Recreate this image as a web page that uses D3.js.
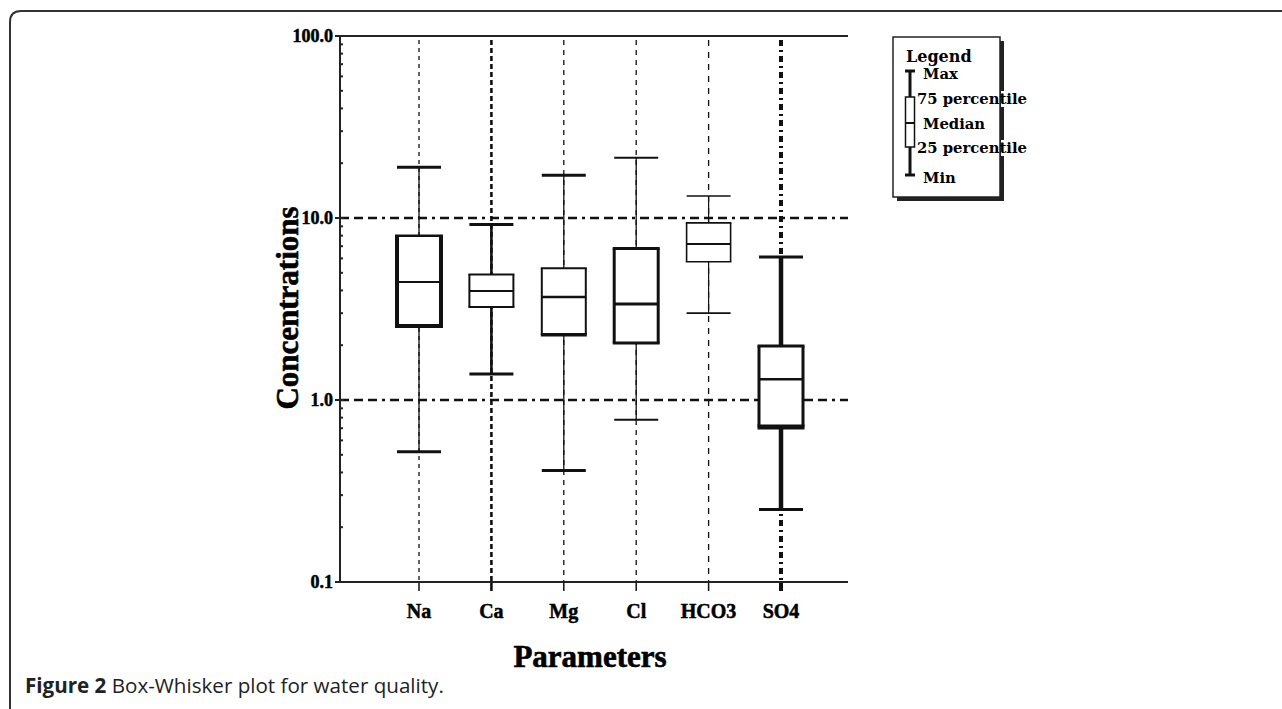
<!DOCTYPE html>
<html><head><meta charset="utf-8">
<script src="https://cdn.jsdelivr.net/npm/d3@7"></script>
<style>body{margin:0;background:#fff}svg{display:block}</style>
</head><body>
<svg id="chart" width="1282" height="709"></svg>
<script>
// ---- data ----
const categories = ["Na", "Ca", "Mg", "Cl", "HCO3", "SO4"];
const minValues    = [0.52, 1.39, 0.41, 0.78, 3.0, 0.25];
const q1Values     = [2.55, 3.24, 2.28, 2.06, 5.75, 0.71];
const medianValues = [4.45, 3.97, 3.68, 3.37, 7.2, 1.30];
const q3Values     = [8.0, 4.9, 5.3, 6.8, 9.4, 1.98];
const maxValues    = [19.0, 9.2, 17.2, 21.4, 13.2, 6.1];
const yTickValues = [0.1, 1, 10, 100];
const yTickLabels = ["0.1", "1.0", "10.0", "100.0"];
const gridValues = [1, 10];
const legendLabels = ["Max", "75 percentile", "Median", "25 percentile", "Min"];

// ---- per-category drawing styles ----
const styles = [
  {grid: 1.3, gridDash: "4,4", whisker: 1.3, cap: 3, boxL: 4, boxR: 4, boxT: 2.5, boxB: 4, med: 1.8},
  {grid: 2.6, gridDash: "5,3", whisker: 2.6, cap: 3, boxL: 2, boxR: 2, boxT: 2, boxB: 2, med: 2},
  {grid: 1.3, gridDash: "5,5", whisker: 1.3, cap: 3, boxL: 2, boxR: 2, boxT: 2, boxB: 3.5, med: 2.5},
  {grid: 1.3, gridDash: "5,5", whisker: 1.3, cap: 2, boxL: 3, boxR: 3, boxT: 3, boxB: 3, med: 3},
  {grid: 1.3, gridDash: "6,6", whisker: 1.2, cap: 1.6, boxL: 1.6, boxR: 1.6, boxT: 1.6, boxB: 1.6, med: 2},
  {grid: 4, gridDash: "6,4,2,4", whisker: 4.5, cap: 3, boxL: 3, boxR: 3, boxT: 3, boxB: 5, med: 2.5}
];

const serif = "'Liberation Serif', 'Times New Roman', serif";
const slab = "'DejaVu Serif', serif";
const svg = d3.select("#chart");

// outer frame
svg.append("path")
  .attr("d", "M10,709 L10,22 Q10,11 21,11 L1282,11")
  .attr("fill", "none").attr("stroke", "#333").attr("stroke-width", 2);

// ---- layout ----
const pL = 340, pR = 848, pT = 36, pB = 582;
const y = d3.scaleLog().domain([0.1, 100]).range([pB, pT]);
const x = d3.scalePoint().domain(categories).range([419, 781]);
const boxW = 44;

const g = svg.append("g");

// horizontal grid (dash-dot)
g.selectAll(".hgrid").data(gridValues).join("line")
  .attr("x1", pL).attr("x2", pR)
  .attr("y1", d => y(d)).attr("y2", d => y(d))
  .attr("stroke", "#111").attr("stroke-width", 2.6)
  .attr("stroke-dasharray", "9,5,9,5,9,5,3,5");

// vertical grid per category + tick below axis
categories.forEach((c, i) => {
  const s = styles[i];
  g.append("line")
    .attr("x1", x(c)).attr("x2", x(c)).attr("y1", pT + 4).attr("y2", pB)
    .attr("stroke", "#111").attr("stroke-width", s.grid).attr("stroke-dasharray", s.gridDash);
  g.append("line")
    .attr("x1", x(c)).attr("x2", x(c)).attr("y1", pB).attr("y2", pB + 9)
    .attr("stroke", "#111").attr("stroke-width", Math.max(1.5, s.grid));
});

// axes lines
g.append("line").attr("x1", pL).attr("x2", pL).attr("y1", pT).attr("y2", pB)
  .attr("stroke", "#222").attr("stroke-width", 2);
g.append("line").attr("x1", pL - 5).attr("x2", pR).attr("y1", pB).attr("y2", pB)
  .attr("stroke", "#222").attr("stroke-width", 2);
g.append("line").attr("x1", pL - 5).attr("x2", pR).attr("y1", pT).attr("y2", pT)
  .attr("stroke", "#222").attr("stroke-width", 2);

// y axis with minor ticks
const minorTicks = [];
[0.1, 1, 10].forEach(dec => { for (let k = 2; k <= 9; k++) minorTicks.push(dec * k); });
g.selectAll(".minor").data(minorTicks).join("line")
  .attr("x1", pL).attr("x2", pL + 3)
  .attr("y1", d => y(d)).attr("y2", d => y(d))
  .attr("stroke", "#222").attr("stroke-width", 2);
g.selectAll(".major").data(yTickValues).join("line")
  .attr("x1", pL - 5).attr("x2", pL + 4)
  .attr("y1", d => y(d)).attr("y2", d => y(d))
  .attr("stroke", "#222").attr("stroke-width", 2);
g.selectAll(".ylab").data(yTickValues).join("text")
  .attr("x", pL - 7).attr("y", d => y(d)).attr("dy", "0.35em")
  .attr("text-anchor", "end")
  .attr("font-family", serif).attr("font-weight", "bold").attr("font-size", 18)
  .attr("stroke", "#000").attr("stroke-width", 0.5)
  .text((d, i) => yTickLabels[i]);

// boxes
categories.forEach((c, i) => {
  const s = styles[i];
  const cx = x(c), x0 = cx - boxW / 2, x1 = cx + boxW / 2;
  const bg = g.append("g");
  bg.append("line").attr("x1", cx).attr("x2", cx).attr("y1", y(maxValues[i])).attr("y2", y(q3Values[i]))
    .attr("stroke", "#111").attr("stroke-width", s.whisker);
  bg.append("line").attr("x1", cx).attr("x2", cx).attr("y1", y(q1Values[i])).attr("y2", y(minValues[i]))
    .attr("stroke", "#111").attr("stroke-width", s.whisker);
  [maxValues[i], minValues[i]].forEach(v => {
    bg.append("line").attr("x1", x0).attr("x2", x1).attr("y1", y(v)).attr("y2", y(v))
      .attr("stroke", "#111").attr("stroke-width", s.cap);
  });
  const yt = y(q3Values[i]), yb = y(q1Values[i]);
  bg.append("rect").attr("x", x0).attr("y", yt).attr("width", boxW).attr("height", yb - yt)
    .attr("fill", "#fff");
  bg.append("line").attr("x1", x0).attr("x2", x0).attr("y1", yt).attr("y2", yb).attr("stroke", "#111").attr("stroke-width", s.boxL);
  bg.append("line").attr("x1", x1).attr("x2", x1).attr("y1", yt).attr("y2", yb).attr("stroke", "#111").attr("stroke-width", s.boxR);
  bg.append("line").attr("x1", x0 - s.boxL / 2).attr("x2", x1 + s.boxR / 2).attr("y1", yt).attr("y2", yt).attr("stroke", "#111").attr("stroke-width", s.boxT);
  bg.append("line").attr("x1", x0 - s.boxL / 2).attr("x2", x1 + s.boxR / 2).attr("y1", yb).attr("y2", yb).attr("stroke", "#111").attr("stroke-width", s.boxB);
  bg.append("line").attr("x1", x0).attr("x2", x1).attr("y1", y(medianValues[i])).attr("y2", y(medianValues[i]))
    .attr("stroke", "#111").attr("stroke-width", s.med);
});

// category labels
g.selectAll(".xlab").data(categories).join("text")
  .attr("x", d => x(d)).attr("y", 618).attr("text-anchor", "middle")
  .attr("font-family", serif).attr("font-weight", "bold").attr("font-size", 20)
  .attr("stroke", "#000").attr("stroke-width", 0.5)
  .text(d => d);

// axis titles
svg.append("text")
  .attr("transform", "translate(298,308) rotate(-90)")
  .attr("text-anchor", "middle")
  .attr("font-family", serif).attr("font-weight", "bold").attr("font-size", 31)
  .attr("stroke", "#000").attr("stroke-width", 0.6)
  .text("Concentrations");
svg.append("text")
  .attr("x", 590).attr("y", 667).attr("text-anchor", "middle")
  .attr("font-family", serif).attr("font-weight", "bold").attr("font-size", 31)
  .attr("stroke", "#000").attr("stroke-width", 0.6)
  .text("Parameters");

// legend
const lg = svg.append("g");
lg.append("rect").attr("x", 897).attr("y", 41).attr("width", 107).attr("height", 160).attr("fill", "#222");
lg.append("rect").attr("x", 893).attr("y", 37).attr("width", 107).attr("height", 160)
  .attr("fill", "#fff").attr("stroke", "#222").attr("stroke-width", 1.5);
lg.append("text").attr("x", 906).attr("y", 62)
  .attr("font-family", slab).attr("font-weight", "bold").attr("font-size", 16)
  .text("Legend");
const gx = 910;
lg.append("line").attr("x1", gx).attr("x2", gx).attr("y1", 71).attr("y2", 175).attr("stroke", "#111").attr("stroke-width", 3);
[71, 175].forEach(v => lg.append("line").attr("x1", gx - 5).attr("x2", gx + 5).attr("y1", v).attr("y2", v).attr("stroke", "#111").attr("stroke-width", 3));
lg.append("rect").attr("x", gx - 4.5).attr("y", 97).attr("width", 9).attr("height", 50)
  .attr("fill", "#fff").attr("stroke", "#111").attr("stroke-width", 1.5);
lg.append("line").attr("x1", gx - 4.5).attr("x2", gx + 4.5).attr("y1", 123).attr("y2", 123).attr("stroke", "#111").attr("stroke-width", 2);
const legendY = [79, 104, 129, 153, 183];
const legendX = [923, 917, 923, 917, 923];
legendLabels.forEach((t, i) => {
  const txt = lg.append("text").attr("x", legendX[i]).attr("y", legendY[i])
    .attr("font-family", slab).attr("font-weight", "bold").attr("font-size", 14.8)
    .text(t);
  const bb = txt.node().getBBox();
  if (bb.x + bb.width > 998) {
    lg.insert("rect", () => txt.node()).attr("x", 1001).attr("y", bb.y + 1).attr("width", 6).attr("height", bb.height - 1).attr("fill", "#fff");
  }
});

// caption
const cap = svg.append("text").attr("x", 25).attr("y", 693)
  .attr("font-family", "'Open Sans', 'Noto Sans', sans-serif").attr("font-size", 20.6).attr("fill", "#222");
cap.append("tspan").attr("font-weight", "bold").text("Figure 2");
cap.append("tspan").text(" Box-Whisker plot for water quality.");
</script>
</body></html>
